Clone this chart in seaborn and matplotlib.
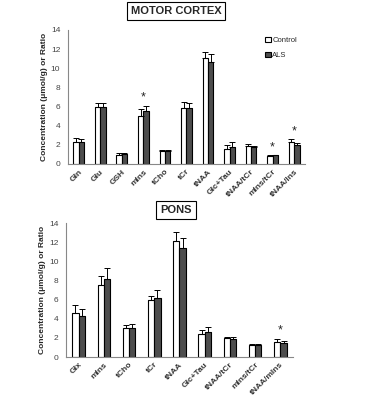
import numpy as np
import pandas as pd
import matplotlib
matplotlib.use("Agg")
import matplotlib.pyplot as plt
import seaborn as sns
from matplotlib.patches import Patch

# motor cortex
mc_labels = ["Gln", "Glu", "GSH", "mIns", "tCho", "tCr", "tNAA", "Glc+Tau", "tNAA/tCr", "mIns/tCr", "tNAA/Ins"]
mc_control = [2.3, 6.0, 0.9, 5.0, 1.4, 5.9, 11.1, 1.6, 1.9, 0.85, 2.3]
mc_control_err = [0.4, 0.4, 0.2, 0.7, 0.1, 0.6, 0.6, 0.4, 0.2, 0.05, 0.3]
mc_als = [2.3, 6.0, 1.0, 5.5, 1.4, 5.9, 10.7, 1.8, 1.8, 0.9, 2.0]
mc_als_err = [0.3, 0.4, 0.2, 0.6, 0.1, 0.5, 0.8, 0.5, 0.1, 0.05, 0.2]
mc_stars = ["mIns", "mIns/tCr", "tNAA/Ins"]

# pons
pons_labels = ["Glx", "mIns", "tCho", "tCr", "tNAA", "Glc+Tau", "tNAA/tCr", "mIns/tCr", "tNAA/mIns"]
pons_control = [4.6, 7.5, 3.0, 6.0, 12.1, 2.4, 2.0, 1.3, 1.6]
pons_control_err = [0.8, 1.0, 0.3, 0.4, 1.0, 0.4, 0.1, 0.05, 0.3]
pons_als = [4.3, 8.1, 3.0, 6.2, 11.4, 2.6, 1.9, 1.3, 1.5]
pons_als_err = [0.7, 1.2, 0.4, 0.8, 1.0, 0.5, 0.2, 0.05, 0.2]
pons_stars = ["tNAA/mIns"]

groups = ["Control", "ALS"]
colors = {"Control": "white", "ALS": "#4d4d4d"}


def make_df(labels, ctrl, ctrl_err, als, als_err):
    return pd.DataFrame({
        "Metabolite": labels * 2,
        "Group": ["Control"] * len(labels) + ["ALS"] * len(labels),
        "Value": ctrl + als,
        "Err": ctrl_err + als_err,
    })


def plot_panel(ax, df, labels, stars, width):
    sns.barplot(ax=ax, data=df, x="Metabolite", y="Value", hue="Group",
                hue_order=groups, order=labels, palette=colors,
                errorbar=None, width=width, edgecolor="black",
                linewidth=0.8, legend=False)
    # error bars (upward only) from bar geometry
    for cont, g in zip(ax.containers, groups):
        sub = df[df["Group"] == g].set_index("Metabolite").loc[labels]
        for p, v, e in zip(cont.patches, sub["Value"], sub["Err"]):
            xc = p.get_x() + p.get_width() / 2
            ax.errorbar(xc, v, yerr=[[0], [e]], fmt="none", ecolor="black",
                        elinewidth=0.7, capsize=2, capthick=0.7)
    for lab in stars:
        i = labels.index(lab)
        sub = df[df["Metabolite"] == lab]
        top = (sub["Value"] + sub["Err"]).max()
        ax.text(i, top + 0.2, "*", ha="center", va="bottom", fontsize=9)
    ax.set_ylim(0, 14)
    ax.set_yticks(range(0, 15, 2))
    ax.set_xlim(-0.5, len(labels) - 0.5)
    ax.set_xticks(np.arange(len(labels)))
    ax.set_xticklabels(labels, rotation=45, ha="right", rotation_mode="anchor",
                       fontsize=6, fontweight="bold", color="#333333")
    ax.set_xticks(np.arange(len(labels)) + 0.5, minor=True)
    ax.tick_params(axis="x", which="major", length=0, pad=3)
    ax.tick_params(axis="x", which="minor", length=2, color="#888888")
    ax.tick_params(axis="y", labelsize=6, length=2, color="#888888",
                   labelcolor="#444444")
    ax.set_xlabel("")
    ax.set_ylabel("Concentration (\u03bcmol/g) or Ratio", fontsize=6,
                  fontweight="bold", labelpad=2)
    for s in ["top", "right"]:
        ax.spines[s].set_visible(False)
    for s in ["left", "bottom"]:
        ax.spines[s].set_color("#888888")
        ax.spines[s].set_linewidth(0.8)


sns.set_style("white")
plt.rcParams["font.family"] = ["Liberation Sans", "DejaVu Sans"]

fig = plt.figure(figsize=(3.86, 4.0), dpi=100)
ax1 = fig.add_axes([0.176, 0.59, 0.614, 0.335])
ax2 = fig.add_axes([0.171, 0.1075, 0.588, 0.335])

mc_df = make_df(mc_labels, mc_control, mc_control_err, mc_als, mc_als_err)
pons_df = make_df(pons_labels, pons_control, pons_control_err, pons_als, pons_als_err)

plot_panel(ax1, mc_df, mc_labels, mc_stars, 0.5)
plot_panel(ax2, pons_df, pons_labels, pons_stars, 0.5)

# legend
handles = [Patch(facecolor=colors[g], edgecolor="black", linewidth=0.8, label=g) for g in groups]
ax1.legend(handles=handles, loc="upper left", bbox_to_anchor=(0.82, 0.97),
           frameon=False, fontsize=5.5, handlelength=0.7, handleheight=0.7,
           handletextpad=0.2, labelspacing=1.0, borderaxespad=0)

box = dict(boxstyle="square,pad=0.35", facecolor="white", edgecolor="black", linewidth=0.8)
fig.text(0.456, 0.972, "MOTOR CORTEX", ha="center", va="center", fontsize=8,
         fontweight="bold", bbox=box)
fig.text(0.456, 0.475, "PONS", ha="center", va="center", fontsize=8,
         fontweight="bold", bbox=box)

fig.savefig("out.png", dpi=100)
